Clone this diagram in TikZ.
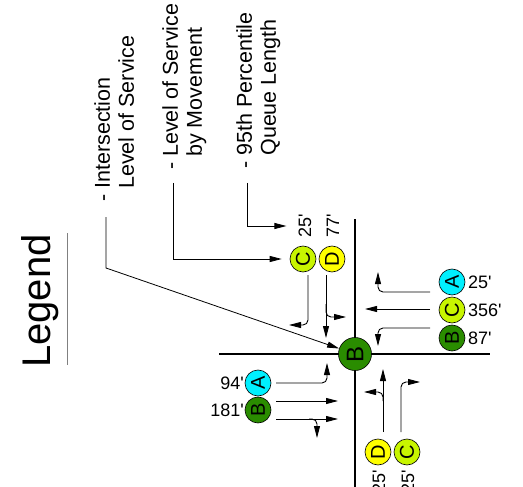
\documentclass[tikz,border=0pt]{standalone}
\usepackage{fontspec}
\setmainfont{Liberation Sans}
\usetikzlibrary{arrows.meta,positioning,calc}
\definecolor{LosA}{HTML}{00F0FF}
\definecolor{LosB}{HTML}{2A8C00}
\definecolor{LosC}{HTML}{C8F500}
\definecolor{LosD}{HTML}{FFFF00}
\newcommand{\ft}{\textquotesingle}
\tikzset{
  los/.style={circle,draw,line width=.6pt,minimum size=26pt,inner sep=0pt,rotate=90,font=\fontsize{20}{20}\selectfont},
  mv/.style={-{Triangle[length=12pt,width=6pt]},line width=.9pt,rounded corners=5pt},
  leader/.style={-{Triangle[length=12pt,width=6pt]},line width=.8pt},
  qlen/.style={font=\fontsize{18}{18}\selectfont,inner sep=1pt},
  road/.style={line width=1.8pt},
  note/.style={rotate=90,anchor=north west,align=left,inner sep=0pt,font=\fontsize{21.5}{24}\selectfont}
}

\begin{document}
\begin{tikzpicture}[x=1pt,y=1pt]
\useasboundingbox (0,0) rectangle (523,-487);
% title
\node[rotate=90,inner sep=0pt,font=\fontsize{40}{40}\selectfont] (legend) at (40,-301) {Legend};
\draw[gray,line width=.8pt] (67,-233) -- (67,-365);
% notes
\node[note] (tInt) at (94,-202) {- Intersection\\\hphantom{- }Level of Service};
\node[note] (tMov) at (162,-170) {- Level of Service\\\hphantom{- }by Movement};
\node[note] (tQue) at (236,-169) {- 95th Percentile\\\hphantom{- }Queue Length};
% roads
\draw[road] (355,-219) -- (355,-490);
\draw[road] (219,-354) -- (490,-354);
\node[los,fill=LosB,minimum size=33pt,font=\fontsize{24}{24}\selectfont] (bigB) at (355,-354) {B};
% north approach
\node[los,fill=LosC] (nC) at (303,-259) {C};
\node[los,fill=LosD] (nD) at (332,-259) {D};
\node[qlen,rotate=90] (nQc) at (305,-226) {25\ft};
\node[qlen,rotate=90] (nQd) at (333,-226) {77\ft};
\draw[mv] (308,-275) -- (308,-325) -- (289,-325);
\draw[mv] (326,-275) -- (326,-338);
\draw[mv] (326,-304) -- (326,-317) -- (346,-317);
% east approach
\node[los,fill=LosA] (eA) at (452,-282) {A};
\node[los,fill=LosC] (eC) at (452,-310) {C};
\node[los,fill=LosB] (eB) at (452,-338) {B};
\node[qlen,anchor=west] (eQa) at (467,-282) {25\ft};
\node[qlen,anchor=west] (eQc) at (467,-310) {356\ft};
\node[qlen,anchor=west] (eQb) at (467,-338) {87\ft};
\draw[mv] (430,-292) -- (378,-292) -- (378,-272);
\draw[mv] (430,-309) -- (365,-309);
\draw[mv] (430,-328) -- (378,-328) -- (378,-346);
% west approach
\node[los,fill=LosA] (wA) at (258,-383) {A};
\node[los,fill=LosB] (wB) at (258,-410) {B};
\node[qlen,anchor=east] (wQa) at (245,-383) {94\ft};
\node[qlen,anchor=east] (wQb) at (245,-410) {181\ft};
\draw[mv] (276,-383) -- (327,-383) -- (327,-363);
\draw[mv] (276,-401) -- (338,-401);
\draw[mv] (276,-419) -- (338,-419);
\draw[mv] (309,-419) -- (317,-419) -- (317,-438);
% south approach
\node[los,fill=LosD] (sD) at (378,-452) {D};
\node[los,fill=LosC] (sC) at (407,-452) {C};
\node[qlen,rotate=90] (sQd) at (379,-482) {25\ft};
\node[qlen,rotate=90] (sQc) at (408,-482) {25\ft};
\draw[mv] (383,-432) -- (383,-369);
\draw[mv] (383,-401) -- (383,-392) -- (364,-392);
\draw[mv] (401,-432) -- (401,-382) -- (420,-382);
% leaders
\coordinate (lInt) at (106,-217);
\coordinate (lMov) at (173,-183);
\coordinate (lQue) at (247,-183);
\draw[leader] (lInt) -- ++(0,-51) -- (bigB);
\draw[leader,shorten >=8pt] (lMov) |- (nC);
\draw[leader,shorten >=11pt] (lQue) |- (nQc);
\end{tikzpicture}
\end{document}
